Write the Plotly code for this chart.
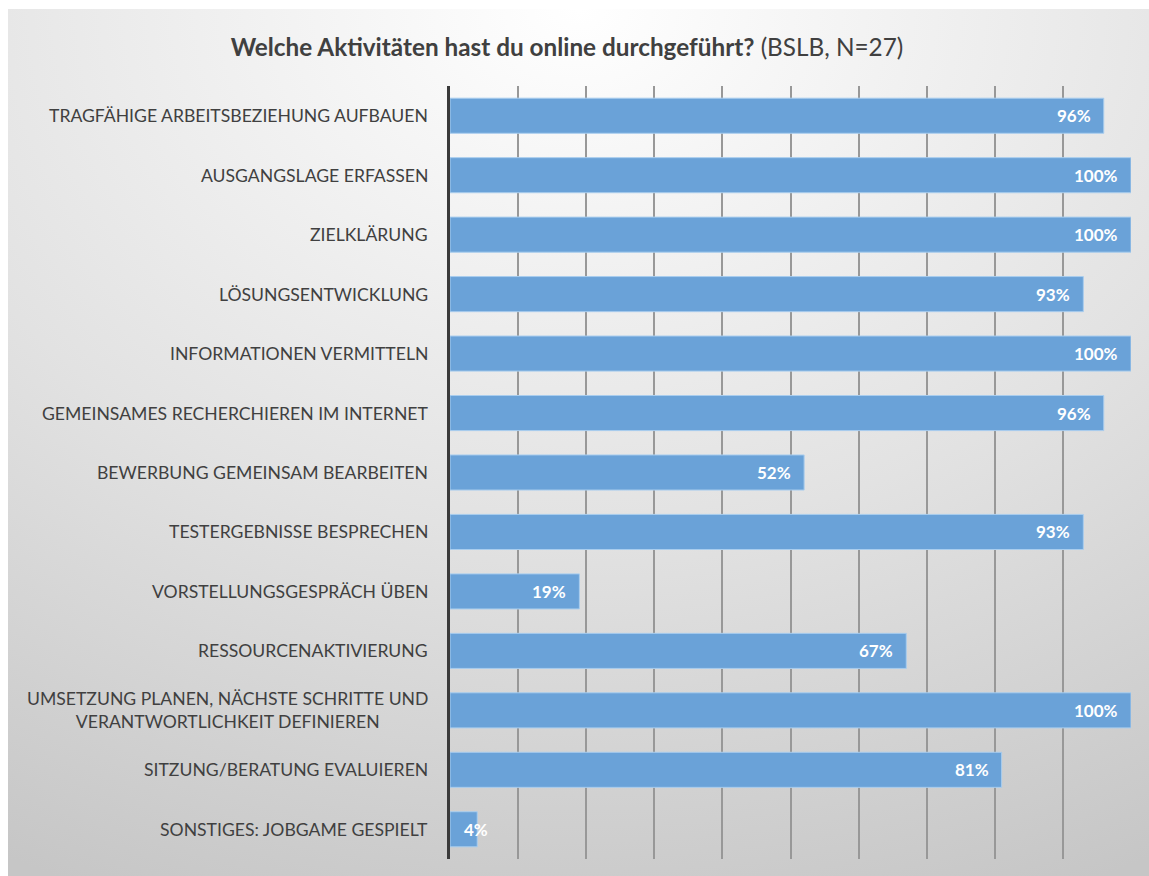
import plotly.graph_objects as go

categories = [
    "TRAGFÄHIGE ARBEITSBEZIEHUNG AUFBAUEN",
    "AUSGANGSLAGE ERFASSEN",
    "ZIELKLÄRUNG",
    "LÖSUNGSENTWICKLUNG",
    "INFORMATIONEN VERMITTELN",
    "GEMEINSAMES RECHERCHIEREN IM INTERNET",
    "BEWERBUNG GEMEINSAM BEARBEITEN",
    "TESTERGEBNISSE BESPRECHEN",
    "VORSTELLUNGSGESPRÄCH ÜBEN",
    "RESSOURCENAKTIVIERUNG",
    "UMSETZUNG PLANEN, NÄCHSTE SCHRITTE UND<br>VERANTWORTLICHKEIT DEFINIEREN",
    "SITZUNG/BERATUNG EVALUIEREN",
    "SONSTIGES: JOBGAME GESPIELT",
]
values = [96, 100, 100, 93, 100, 96, 52, 93, 19, 67, 100, 81, 4]
value_labels = [f"{v}%" for v in values]

W, H = 1149, 876
L, R, T, B = 450, 18, 86, 17
pw, ph = W - L - R, H - T - B

font = "Lato, 'Open Sans', sans-serif"
txt = "#404040"

fig = go.Figure()
fig.add_trace(go.Bar(
    y=categories, x=values, orientation="h",
    marker=dict(color="#6aa2d8", line=dict(color="#a9cdee", width=1)),
    hoverinfo="skip",
))

annotations = []
for c in categories:
    annotations.append(dict(
        x=0, xref="paper", xshift=-20, y=c, yref="y",
        text=c, showarrow=False, xanchor="right", align="center",
        font=dict(family=font, size=17.6, color=txt),
    ))

# value labels: inside end; if the bar is too short, start from the bar base
for c, v, lab in zip(categories, values, value_labels):
    fits = v >= 10
    annotations.append(dict(
        x=v if fits else 0, xref="x", y=c, yref="y",
        xshift=-11 if fits else 12,
        xanchor="right" if fits else "left",
        text=f"<b>{lab}</b>", showarrow=False,
        font=dict(family=font, size=17, color="white"),
    ))

svg = ("data:image/svg+xml;utf8,"
       "<svg xmlns='http://www.w3.org/2000/svg' width='100' height='100' preserveAspectRatio='none'>"
       "<defs><radialGradient id='g' cx='50%' cy='0%' r='110%' fx='50%' fy='0%'>"
       "<stop offset='0' stop-color='%23ffffff'/><stop offset='0.55' stop-color='%23e2e2e2'/>"
       "<stop offset='1' stop-color='%23c6c6c6'/></radialGradient></defs>"
       "<rect width='100' height='100' fill='url(%23g)'/></svg>")

fig.update_layout(
    width=W, height=H,
    margin=dict(l=L, r=R, t=T, b=B),
    paper_bgcolor="white", plot_bgcolor="rgba(0,0,0,0)",
    showlegend=False,
    bargap=0.41,
    title=dict(
        text="<b>Welche Aktivitäten hast du online durchgeführt?</b> (BSLB, N=27)",
        x=567 / W, xanchor="center", y=1 - 47 / H, yanchor="middle",
        font=dict(family=font, size=24.3, color=txt),
    ),
    xaxis=dict(range=[0, 100], dtick=10, showgrid=True, gridcolor="#989898",
               gridwidth=1.5, showticklabels=False, zeroline=False,
               showline=False, fixedrange=True),
    yaxis=dict(autorange="reversed", showticklabels=False, showgrid=False,
               zeroline=False, showline=True, linecolor="#3a3a3a", linewidth=3,
               ticks=""),
    annotations=annotations,
    images=[dict(
        source=svg, xref="paper", yref="paper",
        x=(8 - L) / pw, y=1 + (T - 9) / ph,
        sizex=(W - 8) / pw, sizey=(H - 9) / ph,
        sizing="stretch", layer="below", xanchor="left", yanchor="top",
    )],
)

fig.write_html("out.html")
